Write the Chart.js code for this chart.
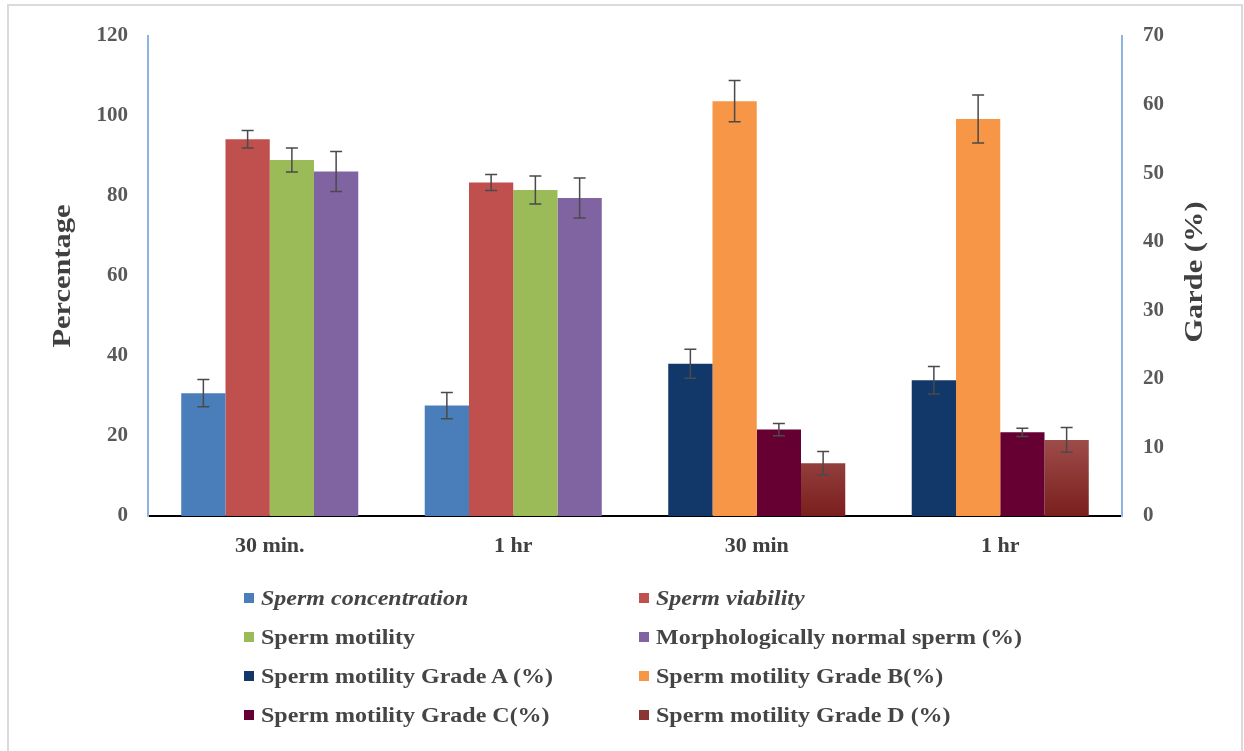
<!DOCTYPE html>
<html lang="en">
<head>
  <meta charset="UTF-8"/>
  <title>Sperm parameters</title>
  <script src="https://cdn.jsdelivr.net/npm/chart.js"></script>
  <style>
    body {
      margin: 0;
      background: #fff;
      font-family: 'Liberation Serif', 'Times New Roman', serif;
    }
    .wrap {
      position: relative;
      width: 1244px;
      height: 751px;
      overflow: hidden;
    }
    .frame {
      position: absolute;
      left: 7px;
      top: 4px;
      width: 1236px;
      height: 800px;
      border: 2px solid #dadada;
      box-sizing: border-box;
    }
    canvas {
      position: absolute;
      left: 0;
      top: 0;
    }
    .item {
      position: absolute;
      display: flex;
      align-items: center;
      height: 24px;
      font-weight: bold;
      font-size: 20px;
      color: #454545;
      white-space: nowrap;
    }
    .item .sw {
      width: 10px;
      height: 10px;
      margin-right: 7px;
      flex: none;
    }
    .item .txt {
      display: inline-block;
      transform: scaleX(1.2);
      transform-origin: left center;
    }
  </style>
</head>
<body>
  <div class="wrap">
    <div class="frame"></div>
    <canvas id="chart" width="1244" height="751"></canvas>
    <div id="legend"></div>
  </div>

  <script>
    // categories and values (left axis: first two groups, right axis: last two)
    const categories = ['30 min.', '1 hr', '30 min', '1 hr'];

    const concentration = [30.7, 27.6, null, null];
    const viability = [94.2, 83.4, null, null];
    const motility = [89.0, 81.5, null, null];
    const morphology = [86.1, 79.5, null, null];

    const gradeA = [null, null, 22.2, 19.8];
    const gradeB = [null, null, 60.5, 57.9];
    const gradeC = [null, null, 12.6, 12.2];
    const gradeD = [null, null, 7.7, 11.1];

    // error bar half-lengths
    const concentrationErr = [3.4, 3.3, null, null];
    const viabilityErr = [2.2, 2.0, null, null];
    const motilityErr = [3.0, 3.5, null, null];
    const morphologyErr = [5.0, 5.0, null, null];
    const gradeAErr = [null, null, 2.1, 2.0];
    const gradeBErr = [null, null, 3.0, 3.5];
    const gradeCErr = [null, null, 0.9, 0.6];
    const gradeDErr = [null, null, 1.7, 1.8];

    const leftTicks = { min: 0, max: 120, step: 20 };
    const rightTicks = { min: 0, max: 70, step: 10 };

    const serif = "'Liberation Serif', 'Times New Roman', serif";

    function gradeDFill(ctx) {
      const chart = ctx.chart;
      if (!chart.chartArea) return '#8c3634';
      const top = chart.scales.y1.getPixelForValue(12);
      const g = chart.ctx.createLinearGradient(0, top, 0, chart.chartArea.bottom);
      g.addColorStop(0, '#a0504d');
      g.addColorStop(1, '#7a1f1e');
      return g;
    }

    const errorBars = {
      id: 'errorBars',
      afterDatasetsDraw(chart) {
        const ctx = chart.ctx;
        ctx.save();
        ctx.strokeStyle = '#4a4a4a';
        ctx.lineWidth = 1.5;
        chart.data.datasets.forEach((ds, i) => {
          const meta = chart.getDatasetMeta(i);
          const scale = chart.scales[ds.yAxisID];
          meta.data.forEach((bar, j) => {
            const v = ds.data[j];
            const e = ds.errors[j];
            if (v == null || e == null) return;
            const y1 = scale.getPixelForValue(v + e);
            const y2 = scale.getPixelForValue(v - e);
            ctx.beginPath();
            ctx.moveTo(bar.x, y1);
            ctx.lineTo(bar.x, y2);
            ctx.moveTo(bar.x - 6, y1);
            ctx.lineTo(bar.x + 6, y1);
            ctx.moveTo(bar.x - 6, y2);
            ctx.lineTo(bar.x + 6, y2);
            ctx.stroke();
          });
        });
        ctx.restore();
      }
    };

    // axis titles, both read bottom-to-top
    const axisTitles = {
      id: 'axisTitles',
      afterDraw(chart) {
        const { ctx, chartArea } = chart;
        const mid = (chartArea.top + chartArea.bottom) / 2;
        const draw = (text, x, y) => {
          ctx.save();
          ctx.translate(x, y);
          ctx.rotate(-Math.PI / 2);
          ctx.scale(1.17, 1);
          ctx.font = 'bold 26px ' + serif;
          ctx.fillStyle = '#404040';
          ctx.textAlign = 'center';
          ctx.textBaseline = 'middle';
          ctx.fillText(text, 0, 0);
          ctx.restore();
        };
        draw('Percentage', 63, mid);
        draw('Garde (%)', 1195, mid - 4);
      }
    };

    const tickFont = { family: serif, size: 21, weight: 'bold' };

    const chart = new Chart(document.getElementById('chart'), {
      type: 'bar',
      data: {
        labels: categories,
        datasets: [
          { label: 'Sperm concentration', data: concentration, errors: concentrationErr, backgroundColor: '#4a7ebb', yAxisID: 'y', italic: true },
          { label: 'Sperm viability', data: viability, errors: viabilityErr, backgroundColor: '#c0504d', yAxisID: 'y', italic: true },
          { label: 'Sperm motility', data: motility, errors: motilityErr, backgroundColor: '#9bbb59', yAxisID: 'y' },
          { label: 'Morphologically normal sperm (%)', data: morphology, errors: morphologyErr, backgroundColor: '#8064a2', yAxisID: 'y' },
          { label: 'Sperm motility Grade A (%)', data: gradeA, errors: gradeAErr, backgroundColor: '#12386a', yAxisID: 'y1' },
          { label: 'Sperm motility Grade B(%)', data: gradeB, errors: gradeBErr, backgroundColor: '#f79646', yAxisID: 'y1' },
          { label: 'Sperm motility Grade C(%)', data: gradeC, errors: gradeCErr, backgroundColor: '#660033', yAxisID: 'y1' },
          { label: 'Sperm motility Grade D (%)', data: gradeD, errors: gradeDErr, backgroundColor: gradeDFill, legendColor: '#8c3634', yAxisID: 'y1' }
        ]
      },
      options: {
        responsive: false,
        animation: false,
        layout: { padding: { top: 36, left: 0, right: 0, bottom: 0 } },
        datasets: {
          bar: { skipNull: true, categoryPercentage: 0.727, barPercentage: 1 }
        },
        plugins: {
          legend: { display: false },
          tooltip: { enabled: false }
        },
        scales: {
          x: {
            grid: { display: false, drawTicks: false },
            border: { color: '#000', width: 2 },
            ticks: { font: { family: serif, size: 22, weight: 'bold' }, color: '#404040', padding: 17 },
            afterFit: s => { s.height = 235; }
          },
          y: {
            position: 'left',
            min: leftTicks.min,
            max: leftTicks.max,
            grid: { display: false, drawTicks: false },
            border: { color: '#8eb4e3', width: 2 },
            ticks: { stepSize: leftTicks.step, font: tickFont, color: '#595959', padding: 20 },
            afterFit: s => { s.width = 148; }
          },
          y1: {
            position: 'right',
            min: rightTicks.min,
            max: rightTicks.max,
            grid: { display: false, drawTicks: false },
            border: { color: '#8eb4e3', width: 2 },
            ticks: { stepSize: rightTicks.step, font: tickFont, color: '#595959', padding: 21 },
            afterFit: s => { s.width = 122; }
          }
        }
      },
      plugins: [errorBars, axisTitles]
    });

    // two-column legend under the plot
    const legendCols = [244, 639];
    const legendRows = [598, 637, 676, 715];
    const legendBox = document.getElementById('legend');
    chart.data.datasets.forEach((ds, i) => {
      const item = document.createElement('div');
      item.className = 'item';
      item.style.left = legendCols[i % 2] + 'px';
      item.style.top = (legendRows[Math.floor(i / 2)] - 12) + 'px';
      const sw = document.createElement('span');
      sw.className = 'sw';
      sw.style.background = ds.legendColor || ds.backgroundColor;
      const txt = document.createElement('span');
      txt.className = 'txt';
      txt.textContent = ds.label;
      if (ds.italic) txt.style.fontStyle = 'italic';
      item.appendChild(sw);
      item.appendChild(txt);
      legendBox.appendChild(item);
    });
  </script>
</body>
</html>
